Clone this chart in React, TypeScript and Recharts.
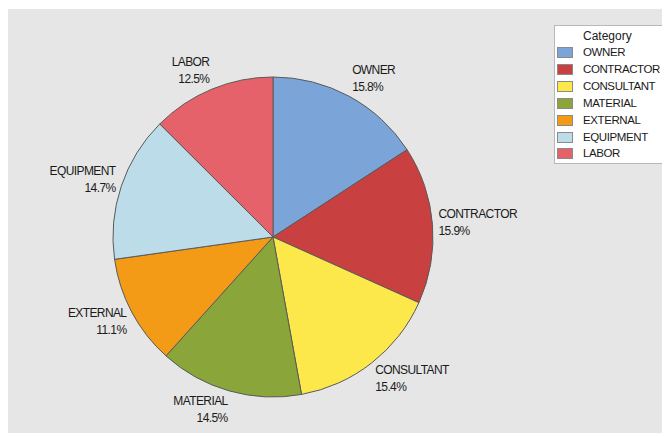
import React from 'react';
import { PieChart, Pie, Cell } from 'recharts';

// category names, shares (%) and slice colours
const categories = ['OWNER', 'CONTRACTOR', 'CONSULTANT', 'MATERIAL', 'EXTERNAL', 'EQUIPMENT', 'LABOR'];
const shares = [15.8, 15.9, 15.4, 14.5, 11.1, 14.7, 12.5];
const colors = ['#7BA4D9', '#C8403F', '#FCE84A', '#8AA63A', '#F39A17', '#BCDCE9', '#E5626A'];

const data = categories.map((name, i) => ({ name, value: shares[i] }));

const RADIAN = Math.PI / 180;
const FONT = '"Liberation Sans", Arial, sans-serif';

/**
 * Two-line outside label: name on top, percent below.
 * Right half anchors at start, left half anchors at end.
 */
const renderLabel = (props: any) => {
  const { cx, cy, midAngle, outerRadius, name, value } = props;
  const cos = Math.cos(-midAngle * RADIAN);
  const sin = Math.sin(-midAngle * RADIAN);
  const x = cx + (outerRadius + 6) * cos;
  const y = cy + (outerRadius + 20) * sin;
  const right = cos >= 0;
  return (
    <text
      x={x}
      y={y}
      textAnchor={right ? 'start' : 'end'}
      fill="#1a1a1a"
      fontSize={12}
      fontFamily={FONT}
      letterSpacing={-0.6}
    >
      <tspan x={x} dy={-5}>{name}</tspan>
      <tspan x={x} dy={17}>{value.toFixed(1)}%</tspan>
    </text>
  );
};

const Legend = () => (
  <div
    style={{
      position: 'absolute',
      left: 546,
      top: 16,
      width: 116,
      height: 139,
      background: '#fff',
      border: '1px solid #b8b8b8',
      fontFamily: FONT,
      color: '#1a1a1a',
      boxSizing: 'border-box',
    }}
  >
    <div style={{ position: 'absolute', left: 28, top: 3, fontSize: 12 }}>Category</div>
    {categories.map((name, i) => (
      <div
        key={name}
        style={{
          position: 'absolute',
          left: 2,
          top: 21 + i * 16.9,
          display: 'flex',
          alignItems: 'center',
          height: 11,
        }}
      >
        <div
          style={{
            width: 16,
            height: 11,
            background: colors[i],
            border: '1px solid #8a8a8a',
            boxSizing: 'border-box',
          }}
        />
        <span style={{ marginLeft: 10, fontSize: 11.5, letterSpacing: -0.4, lineHeight: '11px' }}>{name}</span>
      </div>
    ))}
  </div>
);

export default function App() {
  return (
    <div style={{ position: 'relative', width: 662, height: 424, background: '#e6e6e6', marginTop: 1 }}>
      <PieChart width={662} height={424} margin={{ top: 0, right: 0, bottom: 0, left: 0 }}>
        <Pie
          data={data}
          dataKey="value"
          nameKey="name"
          cx={265}
          cy={228}
          outerRadius={160}
          startAngle={90}
          endAngle={-270}
          stroke="#5a5a5a"
          strokeWidth={1}
          label={renderLabel}
          labelLine={false}
          isAnimationActive={false}
        >
          {data.map((d, i) => (
            <Cell key={d.name} fill={colors[i]} />
          ))}
        </Pie>
      </PieChart>
      <Legend />
    </div>
  );
}
